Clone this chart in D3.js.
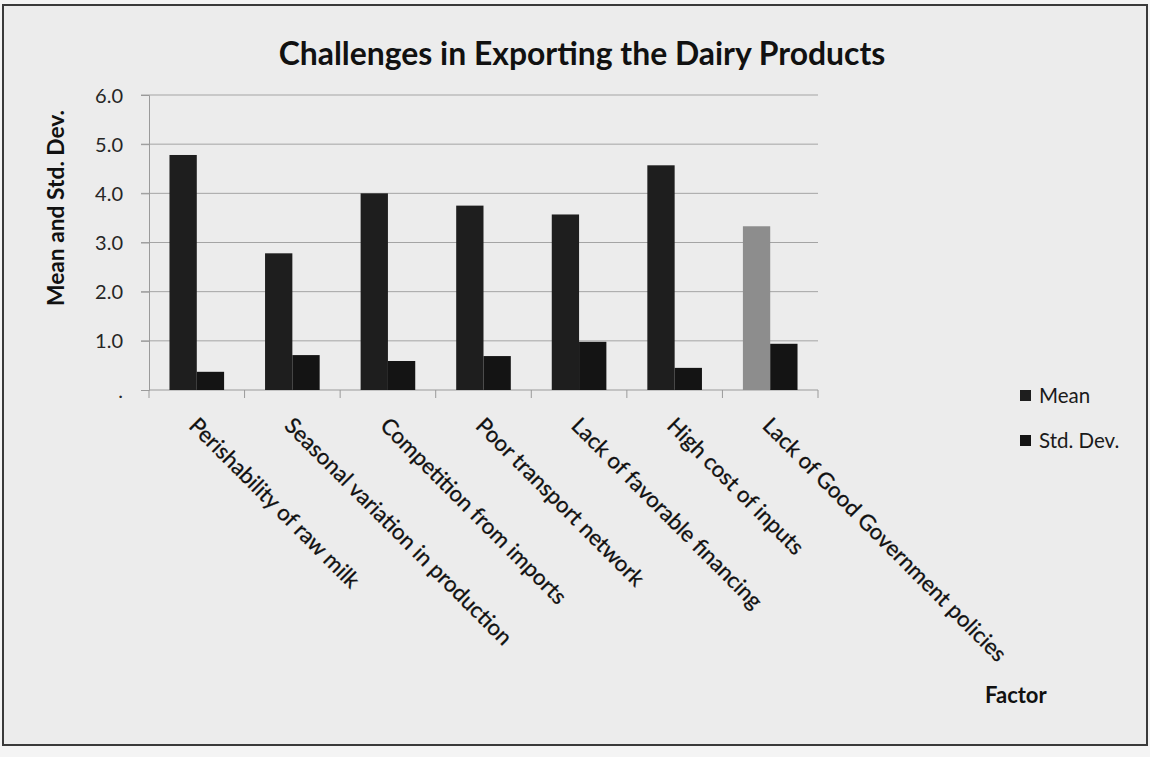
<!DOCTYPE html>
<html>
<head>
<meta charset="utf-8">
<script src="https://cdn.jsdelivr.net/npm/d3@7"></script>
<style>
  html, body { margin: 0; padding: 0; background: #f3f3f3; }
  svg { display: block; }
  text { font-family: Lato, "Open Sans", sans-serif; }
</style>
</head>
<body>
<svg id="chart" width="1150" height="757"></svg>
<script>
// ---- data ----
const categories = [
  "Perishability of raw milk",
  "Seasonal variation in production",
  "Competition from imports",
  "Poor transport network",
  "Lack of favorable financing",
  "High cost of inputs",
  "Lack of Good Government policies"
];
const seriesNames = ["Mean", "Std. Dev."];
const meanValues = [4.78, 2.78, 4.00, 3.75, 3.57, 4.57, 3.33];
const stdDevValues = [0.37, 0.71, 0.59, 0.69, 0.98, 0.45, 0.94];
const yTickValues = [0, 1, 2, 3, 4, 5, 6];
const yTickLabels = [".", "1.0", "2.0", "3.0", "4.0", "5.0", "6.0"];
const titleText = "Challenges in Exporting the Dairy Products";
const yAxisTitle = "Mean and Std. Dev.";
const xAxisTitle = "Factor";

// ---- layout ----
const svg = d3.select("#chart");
const W = 1150, H = 757;
const plot = { left: 149, right: 818, top: 95, bottom: 390 };

// page background + frame
svg.append("rect").attr("x", 0).attr("y", 0).attr("width", W).attr("height", H).attr("fill", "#f4f4f4");
svg.append("rect").attr("x", 3).attr("y", 5).attr("width", 1144).attr("height", 740)
  .attr("fill", "#ececec").attr("stroke", "#3a3a3a").attr("stroke-width", 2);

const x = d3.scaleBand().domain(categories).range([plot.left, plot.right]).padding(0);
const barW = x.step() / (2 + 1.5);
const xSub = d3.scaleBand().domain(seriesNames).range([0, barW * 2]).padding(0);
const y = d3.scaleLinear().domain([0, 6]).range([plot.bottom, plot.top]);

// gridlines
svg.append("g").selectAll("line").data(yTickValues.filter(v => v > 0)).join("line")
  .attr("x1", plot.left - 8).attr("x2", plot.right)
  .attr("y1", d => y(d)).attr("y2", d => y(d))
  .attr("stroke", "#a4a4a4").attr("stroke-width", 1);

// y axis
const yAxis = d3.axisLeft(y).tickValues(yTickValues)
  .tickFormat((d, i) => yTickLabels[i]).tickSize(8).tickPadding(18);
const gy = svg.append("g").attr("transform", `translate(${plot.left},0)`).call(yAxis);
gy.select(".domain").attr("stroke", "#9a9a9a");
gy.selectAll(".tick line").attr("stroke", "#9a9a9a");
gy.selectAll(".tick text").attr("font-size", 20).attr("fill", "#262626")
  .attr("font-family", "Lato, sans-serif").attr("dy", "0.35em");

// x axis baseline with category boundary ticks
const gx = svg.append("g");
gx.append("line").attr("x1", plot.left).attr("x2", plot.right)
  .attr("y1", y(0)).attr("y2", y(0)).attr("stroke", "#9a9a9a");
gx.selectAll("line.b").data(categories.concat([null])).join("line").attr("class", "b")
  .attr("x1", (d, i) => plot.left + i * x.step()).attr("x2", (d, i) => plot.left + i * x.step())
  .attr("y1", y(0)).attr("y2", y(0) + 8).attr("stroke", "#9a9a9a");

// bars
const rows = categories.map((c, i) => ({ cat: c, i, vals: [meanValues[i], stdDevValues[i]] }));
const groups = svg.append("g").selectAll("g").data(rows).join("g")
  .attr("transform", d => `translate(${x(d.cat) + barW * 0.75},0)`);
groups.selectAll("rect").data(d => d.vals.map((v, k) => ({ v, k, i: d.i }))).join("rect")
  .attr("x", d => xSub(seriesNames[d.k]))
  .attr("width", xSub.bandwidth())
  .attr("y", d => y(d.v))
  .attr("height", d => y(0) - y(d.v))
  .attr("fill", d => d.k === 0 ? (d.i === 6 ? "#8d8d8d" : "#1e1e1e") : "#141414");

// x labels rotated 45deg
const xl = svg.append("g").selectAll("text").data(categories).join("text")
  .attr("transform", d => `translate(${x(d) + x.step() / 2 - 9},${plot.bottom + 37}) rotate(45)`)
  .attr("text-anchor", "start").attr("font-size", 20).attr("fill", "#111")
  .attr("stroke", "#111").attr("stroke-width", 0.3)
  .text(d => d);
// fit longest label to measured length
{
  const nodes = xl.nodes();
  const longest = nodes[6];
  const len = longest.getComputedTextLength();
  const fs = 20 * 334 / len;
  xl.attr("font-size", fs);
}

// title
const t = svg.append("text").attr("x", 582).attr("y", 65).attr("text-anchor", "middle")
  .attr("font-weight", "bold").attr("font-size", 26).attr("fill", "#111").text(titleText);
{
  const len = t.node().getComputedTextLength();
  t.attr("font-size", 26 * 607 / len);
}

// y axis title
const yt = svg.append("text").attr("transform", "translate(64,208) rotate(-90)")
  .attr("text-anchor", "middle").attr("font-weight", "bold").attr("font-size", 18)
  .attr("fill", "#111").text(yAxisTitle);
{
  const len = yt.node().getComputedTextLength();
  yt.attr("font-size", 18 * 196 / len);
}

// legend
const legend = svg.append("g").selectAll("g").data(seriesNames).join("g")
  .attr("transform", (d, i) => `translate(1020,${390 + i * 45})`);
legend.append("rect").attr("width", 11).attr("height", 11)
  .attr("fill", (d, i) => i === 0 ? "#1e1e1e" : "#141414");
legend.append("text").attr("x", 19).attr("y", 13).attr("font-size", 20.5)
  .attr("fill", "#1a1a1a").text(d => d);

// x axis title
svg.append("text").attr("x", 985).attr("y", 703).attr("font-weight", "bold")
  .attr("font-size", 22).attr("fill", "#111").text(xAxisTitle);
</script>
</body>
</html>
